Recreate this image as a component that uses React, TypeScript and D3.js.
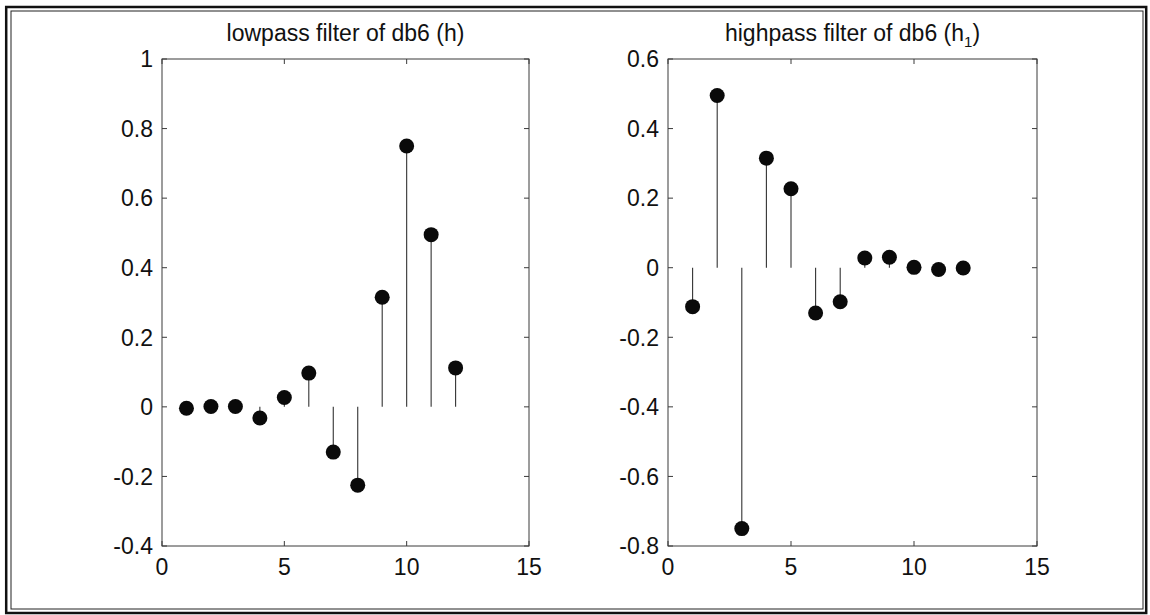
import React from "react";
import * as d3 from "d3";

const xs = [1, 2, 3, 4, 5, 6, 7, 8, 9, 10, 11, 12];
const lowpass = [-0.004, 0.001, 0.001, -0.032, 0.027, 0.097, -0.13, -0.225, 0.315, 0.75, 0.495, 0.112];
const highpass = [-0.112, 0.495, -0.75, 0.315, 0.227, -0.13, -0.098, 0.028, 0.03, 0.001, -0.005, -0.001];
const xTicks = [0, 5, 10, 15];
const lowYTicks = [-0.4, -0.2, 0, 0.2, 0.4, 0.6, 0.8, 1];
const highYTicks = [-0.8, -0.6, -0.4, -0.2, 0, 0.2, 0.4, 0.6];

const FONT = "'Liberation Sans', Arial, Helvetica, sans-serif";
const FS = 23;

type PanelProps = {
  x0: number;
  x1: number;
  yDomain: [number, number];
  yTicks: number[];
  values: number[];
  title: React.ReactNode;
};

function fmt(v: number) {
  const r = Math.round(v * 10) / 10;
  if (r === 0) return "0";
  return String(r);
}

function Panel({ x0, x1, yDomain, yTicks, values, title }: PanelProps) {
  const top = 59;
  const bottom = 546;
  const x = d3.scaleLinear().domain([0, 15]).range([x0, x1]);
  const y = d3.scaleLinear().domain(yDomain).range([bottom, top]);
  const tl = 5;
  const axisColor = "#3a3a3a";
  return (
    <g>
      <rect x={x0} y={top} width={x1 - x0} height={bottom - top} fill="white" stroke={axisColor} strokeWidth={1} />
      {xTicks.map((t) => (
        <g key={"xt" + t}>
          <line x1={x(t)} x2={x(t)} y1={bottom} y2={bottom - tl} stroke={axisColor} />
          <line x1={x(t)} x2={x(t)} y1={top} y2={top + tl} stroke={axisColor} />
          <text x={x(t)} y={575} textAnchor="middle" fontFamily={FONT} fontSize={FS} fill="#111">
            {t}
          </text>
        </g>
      ))}
      {yTicks.map((t) => (
        <g key={"yt" + t}>
          <line x1={x0} x2={x0 + tl} y1={y(t)} y2={y(t)} stroke={axisColor} />
          <line x1={x1} x2={x1 - tl} y1={y(t)} y2={y(t)} stroke={axisColor} />
          <text x={x0 - 9} y={y(t)} dy="0.36em" textAnchor="end" fontFamily={FONT} fontSize={FS} fill="#111">
            {fmt(t)}
          </text>
        </g>
      ))}
      {values.map((v, i) => (
        <line key={"s" + i} x1={x(xs[i])} x2={x(xs[i])} y1={y(0)} y2={y(v)} stroke="#333" strokeWidth={1.1} />
      ))}
      {values.map((v, i) => (
        <circle key={"c" + i} cx={x(xs[i])} cy={y(v)} r={7.5} fill="#0a0a0a" />
      ))}
      <text x={(x0 + x1) / 2} y={41} textAnchor="middle" fontFamily={FONT} fontSize={FS} fill="#111">
        {title}
      </text>
    </g>
  );
}

export default function App() {
  return (
    <svg
      width={1150}
      height={615}
      style={{ position: "absolute", left: 0, top: 0, background: "white" }}
    >
      <rect x={0} y={0} width={1150} height={615} fill="white" />
      <rect x={6.2} y={7} width={1140} height={606} fill="none" stroke="#111" strokeWidth={2.5} />
      <rect x={11} y={11} width={1132} height={598} fill="none" stroke="#222" strokeWidth={1} />
      <Panel
        x0={162}
        x1={529}
        yDomain={[-0.4, 1]}
        yTicks={lowYTicks}
        values={lowpass}
        title={"lowpass filter of db6 (h)"}
      />
      <Panel
        x0={668}
        x1={1037}
        yDomain={[-0.8, 0.6]}
        yTicks={highYTicks}
        values={highpass}
        title={
          <>
            <tspan>highpass filter of db6 (h</tspan>
            <tspan dy={6} fontSize={15}>1</tspan>
            <tspan dy={-6}>)</tspan>
          </>
        }
      />
    </svg>
  );
}
